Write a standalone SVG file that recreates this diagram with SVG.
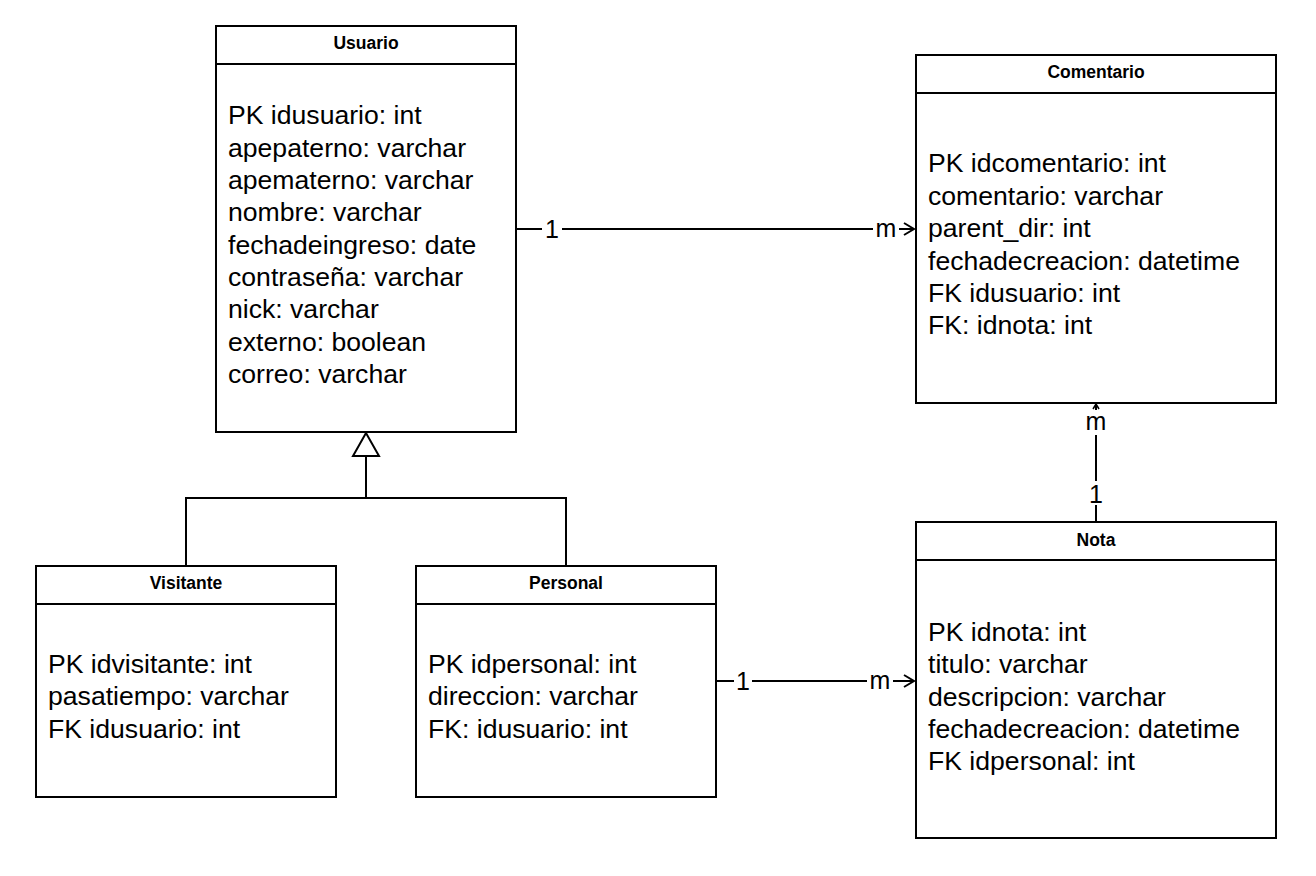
<svg xmlns="http://www.w3.org/2000/svg" width="1316" height="876" viewBox="0 0 1316 876">
<style>
.box{fill:#fff;stroke:#000;stroke-width:2}
.sep{stroke:#000;stroke-width:2}
.title{font-family:"Liberation Sans",Arial,sans-serif;font-size:17.5px;font-weight:bold;text-anchor:middle}
.attr{font-family:"Liberation Sans",Arial,sans-serif;font-size:26.6px}
.lbl{font-family:"Liberation Sans",Arial,sans-serif;font-size:25px;text-anchor:middle}
.ln{fill:none;stroke:#000;stroke-width:2}
</style>
<defs>
<marker id="open" markerWidth="14" markerHeight="14" refX="12" refY="7" orient="auto" markerUnits="userSpaceOnUse">
<path d="M2,1 L12,7 L2,13" fill="none" stroke="#000" stroke-width="2"/>
</marker>
</defs>
<rect width="1316" height="876" fill="#fff"/>
<g id="connectors">
<line class="ln" x1="516" y1="229" x2="914" y2="229" marker-end="url(#open)"/>
<rect x="542" y="214" width="20" height="30" fill="#fff"/>
<text class="lbl" x="552" y="238">1</text>
<rect x="873" y="214" width="26" height="30" fill="#fff"/>
<text class="lbl" x="886" y="237">m</text>
<line class="ln" x1="716" y1="681" x2="914" y2="681" marker-end="url(#open)"/>
<rect x="734" y="666" width="18" height="30" fill="#fff"/>
<text class="lbl" x="743" y="690">1</text>
<rect x="867" y="666" width="26" height="30" fill="#fff"/>
<text class="lbl" x="880" y="689">m</text>
<line class="ln" x1="1096" y1="522" x2="1096" y2="404"/>
<path d="M1093,409 L1096,404 L1099,409" fill="none" stroke="#000" stroke-width="1.5"/>
<rect x="1082" y="410" width="28" height="25" fill="#fff"/>
<text class="lbl" x="1096" y="430">m</text>
<rect x="1084" y="481" width="24" height="24" fill="#fff"/>
<text class="lbl" x="1096" y="503">1</text>
<polyline class="ln" points="186,566 186,498 566,498 566,566"/>
<line class="ln" x1="366" y1="498" x2="366" y2="456"/>
<polygon points="366,433 353,456 379,456" fill="#fff" stroke="#000" stroke-width="2"/>
</g>
<g id="usuario">
<rect class="box" x="216" y="26" width="300" height="406"/>
<line class="sep" x1="216" y1="64" x2="516" y2="64"/>
<text class="title" x="366" y="49">Usuario</text>
<text class="attr" x="228" y="124">PK idusuario: int</text>
<text class="attr" x="228" y="156.5">apepaterno: varchar</text>
<text class="attr" x="228" y="189">apematerno: varchar</text>
<text class="attr" x="228" y="221">nombre: varchar</text>
<text class="attr" x="228" y="253.5">fechadeingreso: date</text>
<text class="attr" x="228" y="286">contraseña: varchar</text>
<text class="attr" x="228" y="318">nick: varchar</text>
<text class="attr" x="228" y="350.5">externo: boolean</text>
<text class="attr" x="228" y="383">correo: varchar</text>
</g>
<g id="comentario">
<rect class="box" x="916" y="55" width="360" height="348"/>
<line class="sep" x1="916" y1="93" x2="1276" y2="93"/>
<text class="title" x="1096" y="78">Comentario</text>
<text class="attr" x="928" y="172">PK idcomentario: int</text>
<text class="attr" x="928" y="205">comentario: varchar</text>
<text class="attr" x="928" y="237">parent_dir: int</text>
<text class="attr" x="928" y="270">fechadecreacion: datetime</text>
<text class="attr" x="928" y="302">FK idusuario: int</text>
<text class="attr" x="928" y="334">FK: idnota: int</text>
</g>
<g id="nota">
<rect class="box" x="916" y="522" width="360" height="316"/>
<line class="sep" x1="916" y1="560" x2="1276" y2="560"/>
<text class="title" x="1096" y="546">Nota</text>
<text class="attr" x="928" y="641">PK idnota: int</text>
<text class="attr" x="928" y="673">titulo: varchar</text>
<text class="attr" x="928" y="706">descripcion: varchar</text>
<text class="attr" x="928" y="738">fechadecreacion: datetime</text>
<text class="attr" x="928" y="770">FK idpersonal: int</text>
</g>
<g id="visitante">
<rect class="box" x="36" y="566" width="300" height="231"/>
<line class="sep" x1="36" y1="604" x2="336" y2="604"/>
<text class="title" x="186" y="589">Visitante</text>
<text class="attr" x="48" y="673">PK idvisitante: int</text>
<text class="attr" x="48" y="705">pasatiempo: varchar</text>
<text class="attr" x="48" y="738">FK idusuario: int</text>
</g>
<g id="personal">
<rect class="box" x="416" y="566" width="300" height="231"/>
<line class="sep" x1="416" y1="604" x2="716" y2="604"/>
<text class="title" x="566" y="589">Personal</text>
<text class="attr" x="428" y="673">PK idpersonal: int</text>
<text class="attr" x="428" y="705">direccion: varchar</text>
<text class="attr" x="428" y="738">FK: idusuario: int</text>
</g>
</svg>
